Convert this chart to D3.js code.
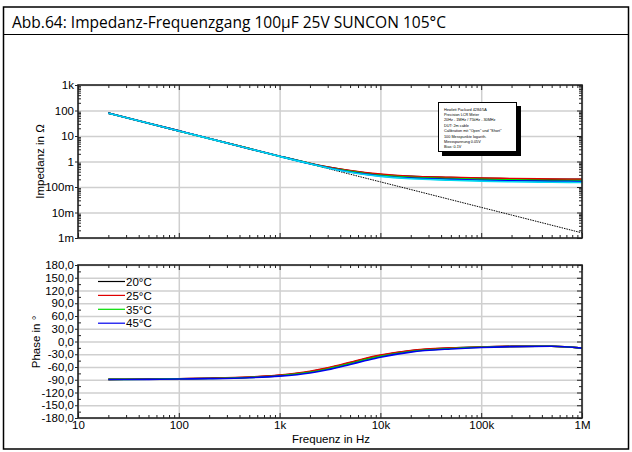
<!DOCTYPE html>
<html>
<head>
<meta charset="utf-8">
<script src="https://cdn.jsdelivr.net/npm/d3@7"></script>
<style>
  html, body { margin: 0; padding: 0; background: #fff; }
  svg { display: block; }
  text { font-family: "Liberation Sans", Arial, sans-serif; fill: #000; }
</style>
</head>
<body>
<svg id="chart" width="632" height="452"></svg>
<script>
// measured frequencies (Hz)
var freqs = [20, 50, 100, 200, 500, 1000, 2000, 3000, 5000, 7000, 10000, 20000, 50000, 100000, 200000, 500000, 1000000];

// impedance in Ohm
var imp20 = [79, 31.8, 15.9, 7.95, 3.2, 1.62, 0.84, 0.6, 0.43, 0.36, 0.31, 0.26, 0.235, 0.22, 0.21, 0.2, 0.2];
var imp25 = [79, 31.8, 15.9, 7.95, 3.2, 1.62, 0.85, 0.61, 0.44, 0.37, 0.32, 0.265, 0.24, 0.225, 0.215, 0.205, 0.2];
var imp35 = [79, 31.8, 15.9, 7.95, 3.2, 1.61, 0.83, 0.58, 0.41, 0.34, 0.29, 0.24, 0.215, 0.2, 0.19, 0.18, 0.178];
var imp45 = [79, 31.8, 15.9, 7.95, 3.19, 1.6, 0.82, 0.57, 0.39, 0.32, 0.27, 0.225, 0.2, 0.185, 0.175, 0.168, 0.165];
var impCyan = [78, 31.5, 15.8, 7.9, 3.17, 1.59, 0.81, 0.56, 0.38, 0.31, 0.26, 0.21, 0.185, 0.17, 0.16, 0.153, 0.15];
var impIdeal = [79.6, 31.8, 15.9, 7.96, 3.18, 1.59, 0.796, 0.531, 0.318, 0.227, 0.159, 0.0796, 0.0318, 0.0159, 0.00796, 0.00318, 0.00159];

// phase in degree
var ph20 = [-89, -88.5, -87.5, -86.5, -84, -79.5, -71, -63, -50, -41, -33, -22, -15.5, -13, -11.5, -11, -15.5];
var ph25 = [-89, -88.5, -87.5, -86.5, -83.8, -79, -70, -62, -49, -40, -32, -21, -15, -13, -11.5, -11, -15.5];
var ph35 = [-89.2, -88.8, -87.8, -87, -84.6, -80.5, -72.5, -64.5, -52, -43, -35, -23.5, -16.5, -13.5, -11.8, -11, -15.5];
var ph45 = [-89.5, -89, -88.2, -87.4, -85.2, -81.5, -74, -66.5, -54, -45.5, -37, -25, -17.5, -14, -12, -11, -15.5];

var seriesNames = ["20°C", "25°C", "35°C", "45°C"];
var seriesColors = ["#000000", "#e00000", "#00dd00", "#0000ee"];

var freqTicks = [10, 100, 1000, 10000, 100000, 1000000];
var freqTickLabels = ["10", "100", "1k", "10k", "100k", "1M"];
var impTicks = [0.001, 0.01, 0.1, 1, 10, 100, 1000];
var impTickLabels = ["1m", "10m", "100m", "1", "10", "100", "1k"];
var phaseTicks = [-180, -150, -120, -90, -60, -30, 0, 30, 60, 90, 120, 150, 180];

var infoLines = [
  "Hewlett Packard 4284/5A",
  "Precision LCR Meter",
  "20Hz - 1MHz / 75kHz - 30MHz",
  "DUT: 2m cable",
  "Calibration mit \"Open\" und \"Short\"",
  "100 Messpunkte logarith.",
  "Messspannung 0.05V",
  "Bias: 0.1V"
];

var svg = d3.select("#chart");

// outer frame + title
svg.append("rect").attr("x", 3.5).attr("y", 7).attr("width", 625).attr("height", 442)
  .attr("fill", "none").attr("stroke", "#000").attr("stroke-width", 1.5);
svg.append("line").attr("x1", 3.5).attr("x2", 628.5).attr("y1", 34.5).attr("y2", 34.5)
  .attr("stroke", "#000").attr("stroke-width", 1.2);
svg.append("text").attr("x", 12).attr("y", 28)
  .style("font-family", "'Open Sans', 'Noto Sans', sans-serif").style("font-size", "17px")
  .attr("textLength", 434).attr("lengthAdjust", "spacingAndGlyphs")
  .text("Abb.64: Impedanz-Frequenzgang 100µF 25V SUNCON 105°C");

var left = 78, right = 582;
var x = d3.scaleLog().domain([10, 1e6]).range([left, right]);
var yZ = d3.scaleLog().domain([1e-3, 1e3]).range([238, 85]);
var yP = d3.scaleLinear().domain([-180, 180]).range([418, 265]);

var minorX = [];
for (var d = 10; d < 1e6; d *= 10)
  for (var k = 2; k < 10; k++) minorX.push(d * k);
var minorZ = [];
for (var e = 1e-3; e < 1e3; e *= 10)
  for (var m = 2; m < 10; m++) minorZ.push(e * m);
var minorP = d3.range(-165, 180, 30);

function frame(y, yTop, yBot, majorY, minorY, labels) {
  var g = svg.append("g");

  // grid
  g.append("g").attr("transform", "translate(0," + yBot + ")")
    .call(d3.axisBottom(x).tickValues(freqTicks).tickSize(-(yBot - yTop)).tickFormat(""))
    .call(function(s) { s.select(".domain").remove(); s.selectAll("line").attr("stroke", "#cfcfcf").attr("stroke-width", 1.5); });
  g.append("g").attr("transform", "translate(" + left + ",0)")
    .call(d3.axisLeft(y).tickValues(majorY).tickSize(-(right - left)).tickFormat(""))
    .call(function(s) { s.select(".domain").remove(); s.selectAll("line").attr("stroke", "#cfcfcf").attr("stroke-width", 1.5); });

  // minor ticks inside on all four edges
  var tickStyle = function(s) { s.select(".domain").remove(); s.selectAll("line").attr("stroke", "#222"); };
  g.append("g").attr("transform", "translate(0," + yTop + ")")
    .call(d3.axisTop(x).tickValues(minorX).tickSize(-3).tickFormat("")).call(tickStyle);
  g.append("g").attr("transform", "translate(0," + yBot + ")")
    .call(d3.axisBottom(x).tickValues(minorX).tickSize(-3).tickFormat("")).call(tickStyle);
  g.append("g").attr("transform", "translate(0," + yTop + ")")
    .call(d3.axisTop(x).tickValues(freqTicks).tickSize(-5).tickFormat("")).call(tickStyle);
  g.append("g").attr("transform", "translate(0," + yBot + ")")
    .call(d3.axisBottom(x).tickValues(freqTicks).tickSize(-5).tickFormat("")).call(tickStyle);
  g.append("g").attr("transform", "translate(" + right + ",0)")
    .call(d3.axisRight(y).tickValues(minorY).tickSize(-3).tickFormat("")).call(tickStyle);
  g.append("g").attr("transform", "translate(" + right + ",0)")
    .call(d3.axisRight(y).tickValues(majorY).tickSize(-5).tickFormat("")).call(tickStyle);
  g.append("g").attr("transform", "translate(" + left + ",0)")
    .call(d3.axisLeft(y).tickValues(minorY).tickSize(-3).tickFormat("")).call(tickStyle);

  // left labels
  var ax = g.append("g").attr("transform", "translate(" + left + ",0)")
    .call(d3.axisLeft(y).tickValues(majorY).tickSize(3).tickPadding(1).tickFormat(labels))
    .call(tickStyle);
  ax.selectAll("text").style("font-family", "'Liberation Sans', Arial, sans-serif")
    .style("font-size", "11.5px").attr("fill", "#000");

  return g;
}

var top = frame(yZ, 85, 238, impTicks, minorZ, function(v, i) { return impTickLabels[i]; });
var bot = frame(yP, 265, 418, phaseTicks, minorP, function(v) { return d3.format(".1f")(v).replace(".", ",").replace("−", "-"); });

// x tick labels only under the phase plot
svg.append("g").attr("transform", "translate(0,418)")
  .call(d3.axisBottom(x).tickValues(freqTicks).tickSize(0).tickPadding(3).tickFormat(function(v, i) { return freqTickLabels[i]; }))
  .call(function(s) {
    s.select(".domain").remove();
    s.selectAll("text").style("font-family", "'Liberation Sans', Arial, sans-serif").style("font-size", "11.5px").attr("fill", "#000");
  });

var lineZ = d3.line().x(function(d, i) { return x(freqs[i]); }).y(function(d) { return yZ(d); }).curve(d3.curveMonotoneX);
var lineP = d3.line().x(function(d, i) { return x(freqs[i]); }).y(function(d) { return yP(d); }).curve(d3.curveMonotoneX);

// ideal capacitor, dotted
svg.append("path").attr("d", lineZ(impIdeal)).attr("fill", "none")
  .attr("stroke", "#000").attr("stroke-width", 1).attr("stroke-dasharray", "1.5,1");

var impSeries = [imp20, imp25, imp35, imp45, impCyan];
var impColors = seriesColors.concat(["#00d8f0"]);
impSeries.forEach(function(s, i) {
  svg.append("path").attr("d", lineZ(s)).attr("fill", "none")
    .attr("stroke", impColors[i]).attr("stroke-width", 1.6);
});

[ph20, ph25, ph35, ph45].forEach(function(s, i) {
  svg.append("path").attr("d", lineP(s)).attr("fill", "none")
    .attr("stroke", seriesColors[i]).attr("stroke-width", 1.6);
});

// plot frames on top
[[85, 238], [265, 418]].forEach(function(r) {
  svg.append("rect").attr("x", left).attr("y", r[0]).attr("width", right - left).attr("height", r[1] - r[0])
    .attr("fill", "none").attr("stroke", "#222").attr("stroke-width", 1.6);
});

// legend
var leg = svg.append("g");
seriesNames.forEach(function(n, i) {
  var ly = 281.5 + i * 13.9;
  leg.append("line").attr("x1", 98).attr("x2", 125).attr("y1", ly).attr("y2", ly)
    .attr("stroke", seriesColors[i]).attr("stroke-width", 1.2);
  leg.append("text").attr("x", 126).attr("y", ly + 4.2).style("font-size", "11.5px").text(n);
});

// info box with shadow
svg.append("rect").attr("x", 442).attr("y", 106).attr("width", 79).attr("height", 50).attr("fill", "#000");
svg.append("rect").attr("x", 438.5).attr("y", 102.5).attr("width", 78).attr("height", 49)
  .attr("fill", "#fff").attr("stroke", "#000").attr("stroke-width", 1);
infoLines.forEach(function(t, i) {
  svg.append("text").attr("x", 444).attr("y", 110.5 + i * 5.4).style("font-size", "3.8px").text(t);
});

// axis titles
svg.append("text").attr("transform", "translate(44,161.5) rotate(-90)").attr("text-anchor", "middle")
  .style("font-size", "11.5px").text("Impedanz in Ω");
svg.append("text").attr("transform", "translate(40,342) rotate(-90)").attr("text-anchor", "middle")
  .style("font-size", "11.5px").text("Phase in °");
svg.append("text").attr("x", 331).attr("y", 443).attr("text-anchor", "middle")
  .style("font-size", "11.5px").text("Frequenz in Hz");
</script>
</body>
</html>
